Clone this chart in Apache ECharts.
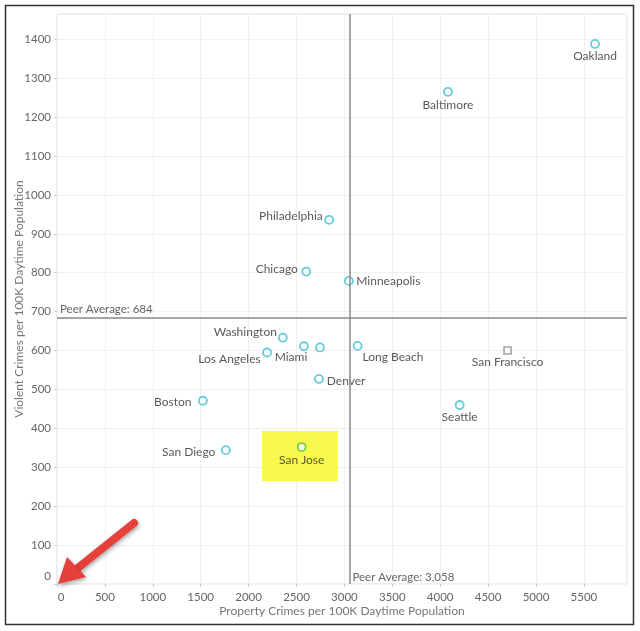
<!DOCTYPE html>
<html>
<head>
<meta charset="utf-8">
<title>Violent vs Property Crimes</title>
<script src="https://cdn.jsdelivr.net/npm/echarts@6/dist/echarts.min.js"></script>
<style>
html,body{margin:0;padding:0;background:#fff;}
#chart{width:640px;height:631px;}
</style>
</head>
<body>
<div id="chart"></div>
<script>
// peer cities (property crimes, violent crimes per 100K daytime population)
var cities = ['Oakland','Baltimore','Philadelphia','Chicago','Minneapolis','Washington','Los Angeles','Miami','','Long Beach','Denver','Boston','San Diego','Seattle'];
var propertyCrimes = [5616,4081,2841,2602,3047,2357,2193,2578,2745,3138,2734,1523,1762,4203];
var violentCrimes = [1388,1265,936,803,779,633,595,611,608,612,527,471,344,460];
// highlighted city and the square one
var sanJose = [2554,352];
var sanFrancisco = [4703,600];
var peerProperty = 3058;
var peerViolent = 684;
var highlightBox = [[2140,265],[2932,393]];

var font = 'Lato';
// label placement per city
var place = {
	'Oakland':{position:'bottom',distance:1},
	'Baltimore':{position:'bottom',distance:2},
	'Philadelphia':{position:'left',distance:1.5,offset:[0,-4]},
	'Chicago':{position:'left',distance:3.5,offset:[0,-2]},
	'Minneapolis':{position:'right',distance:2.5},
	'Washington':{position:'left',distance:1,offset:[0,-6]},
	'Los Angeles':{position:'left',distance:1.5,offset:[0,7]},
	'Miami':{position:'inside',offset:[-13,11]},
	'Long Beach':{position:'right',distance:0,offset:[0,11]},
	'Denver':{position:'right',distance:3,offset:[0,2]},
	'Boston':{position:'left',distance:6.5,offset:[0,1]},
	'San Diego':{position:'left',distance:5.5,offset:[0,2]},
	'Seattle':{position:'bottom',distance:1}
};
var cityData = [];
for(var i=0;i<cities.length;i++){
	var c = cities[i], p = place[c]||{};
	cityData.push({
		name:c,
		value:[propertyCrimes[i],violentCrimes[i]],
		label:{show:!!c,formatter:'{b}',position:p.position||'right',distance:p.distance==null?5:p.distance,offset:p.offset||[0,0]}
	});
}

var labelStyle = {color:'#2e2e2e',fontSize:12,fontFamily:font};
var chart = echarts.init(document.getElementById('chart'));
var option = {
	animation:false,
	backgroundColor:'#fff',
	grid:{left:57,top:14,right:13,bottom:47,outerBoundsMode:'none',containLabel:false,show:true,borderColor:'#dedede',borderWidth:1},
	xAxis:{
		type:'value',min:0,max:5950,interval:500,
		name:'Property Crimes per 100K Daytime Population',
		nameLocation:'middle',nameGap:21,nameMoveOverlap:false,
		nameTextStyle:{color:'#777',fontSize:12,fontFamily:font,verticalAlign:'top'},
		axisLine:{show:false},
		axisTick:{show:true,length:3,lineStyle:{color:'#ccc'}},
		axisLabel:{color:'#666',fontSize:11.5,fontFamily:font,margin:7,showMaxLabel:false,
			formatter:function(v){return v===0?'{z|0}':v;},
			rich:{z:{padding:[0,0,0,8],color:'#666',fontSize:11.5,fontFamily:font}}},
		splitLine:{show:true,lineStyle:{color:'#f0f0f0'}}
	},
	yAxis:{
		type:'value',min:0,max:1465,interval:100,
		name:'Violent Crimes per 100K Daytime Population',
		nameLocation:'middle',nameGap:32,nameMoveOverlap:false,
		nameTextStyle:{color:'#777',fontSize:12,fontFamily:font},
		axisLine:{show:false},
		axisTick:{show:true,length:3,lineStyle:{color:'#ccc'}},
		axisLabel:{color:'#666',fontSize:11.5,fontFamily:font,margin:6,showMaxLabel:false,
			formatter:function(v){return v===0?'{z|0}':v;},
			rich:{z:{padding:[0,0,16,0],color:'#666',fontSize:11.5,fontFamily:font}}},
		splitLine:{show:true,lineStyle:{color:'#f0f0f0'}}
	},
	series:[
		{
			name:'highlight',type:'scatter',data:[],
			markArea:{silent:true,itemStyle:{color:'#f9f84c'},
				data:[[{coord:highlightBox[0]},{coord:highlightBox[1]}]]}
		},
		{
			name:'peers',type:'scatter',z:3,
			symbol:'circle',symbolSize:8,
			itemStyle:{color:'#fff',borderColor:'#3fbfd0',borderWidth:1.8},
			label:labelStyle,
			data:cityData,
			markLine:{
				silent:true,symbol:'none',
				lineStyle:{color:'#888',width:1.5,type:'solid'},
				label:{color:'#666',fontSize:11.5,fontFamily:font},
				data:[
					{yAxis:peerViolent,label:{position:'insideStartTop',distance:[3,3],formatter:'Peer Average: '+peerViolent}},
					{xAxis:peerProperty,label:{show:false}}
				]
			},
			markPoint:{
				silent:true,symbol:'rect',symbolSize:1,itemStyle:{color:'rgba(0,0,0,0)'},
				data:[{coord:[peerProperty,0],
					label:{show:true,position:'right',distance:2,offset:[0,-7],color:'#666',fontSize:11.5,fontFamily:font,
						formatter:'Peer Average: '+echarts.format.addCommas(peerProperty)}}]
			}
		},
		{
			name:'San Jose',type:'scatter',z:4,symbolSize:8,
			itemStyle:{color:'#fff',borderColor:'#55c23e',borderWidth:1.8},
			label:labelStyle,
			data:[{name:'San Jose',value:sanJose,label:{show:true,position:'bottom',distance:2,formatter:'{b}'}}]
		},
		{
			name:'San Francisco',type:'scatter',z:4,symbol:'rect',symbolSize:7,
			itemStyle:{color:'#fff',borderColor:'#8c8c8c',borderWidth:1.6},
			label:labelStyle,
			data:[{name:'San Francisco',value:sanFrancisco,label:{show:true,position:'bottom',distance:1.5,formatter:'{b}'}}]
		}
	],
	graphic:[
		// outer frame
		{type:'rect',shape:{x:5.5,y:5.5,width:628,height:619},style:{fill:null,stroke:'#333',lineWidth:1.5},silent:true,z:100},
		// red arrow pointing to origin
		{type:'line',silent:true,z:100,shape:{x1:134,y1:523,x2:74,y2:571},style:{stroke:'#e5403a',lineWidth:8,lineCap:'round',shadowBlur:4,shadowColor:'rgba(0,0,0,0.35)',shadowOffsetX:1,shadowOffsetY:2}},
		{type:'polygon',silent:true,z:101,shape:{points:[[58,584],[67,557],[86,577]]},style:{fill:'#e5403a',shadowBlur:4,shadowColor:'rgba(0,0,0,0.35)',shadowOffsetX:1,shadowOffsetY:2}}
	]
};
chart.setOption(option);
</script>
</body>
</html>
